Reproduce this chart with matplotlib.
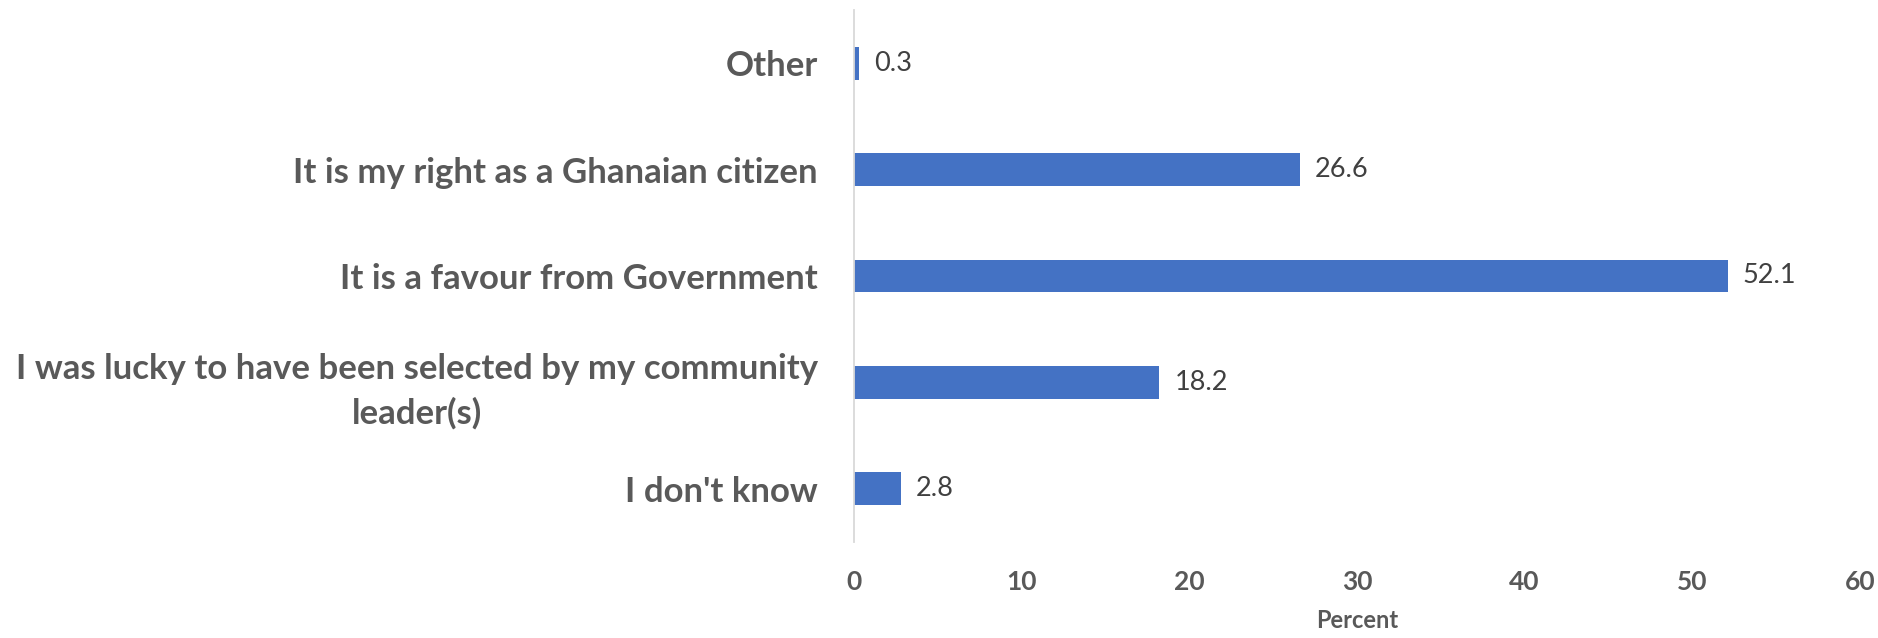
import matplotlib
matplotlib.use("Agg")
import matplotlib.pyplot as plt

categories = [
    "Other",
    "It is my right as a Ghanaian citizen",
    "It is a favour from Government",
    "I was lucky to have been selected by my community\nleader(s)",
    "I don't know",
]
percent = [0.3, 26.6, 52.1, 18.2, 2.8]
xticks = [0, 10, 20, 30, 40, 50, 60]

plt.rcParams["font.family"] = ["Lato", "DejaVu Sans"]

fig = plt.figure(figsize=(18.78, 6.38), dpi=100)
ax = fig.add_axes([0.4547, 0.1505, 0.5357, 0.8338])

ypos = list(range(len(categories)))
bars = ax.barh(ypos, percent, height=0.31, color="#4472C4")

for b, v in zip(bars, percent):
    ax.annotate(f"{v:.1f}", (b.get_width(), b.get_y() + b.get_height() / 2),
                xytext=(11, 0), textcoords="offset points",
                va="center", ha="left", fontsize=19.5, color="#404040")

ax.set_xlim(0, 60)
ax.set_ylim(len(categories) - 0.5, -0.5)
ax.set_xticks(xticks)
ax.set_xticklabels([str(t) for t in xticks], fontsize=19, fontweight="bold", color="#595959")
ax.set_yticks(ypos)
ax.set_yticklabels(categories, fontsize=25, fontweight="bold", color="#595959",
                   multialignment="center", linespacing=1.45)
ax.tick_params(axis="x", length=0, pad=20)
ax.tick_params(axis="y", length=0, pad=26)

for s in ["top", "right", "bottom"]:
    ax.spines[s].set_visible(False)
ax.spines["left"].set_color("#D9D9D9")
ax.spines["left"].set_linewidth(1.3)

ax.set_xlabel("Percent", fontsize=17, fontweight="bold", color="#595959", labelpad=11)

fig.savefig("out.png", dpi=100)
